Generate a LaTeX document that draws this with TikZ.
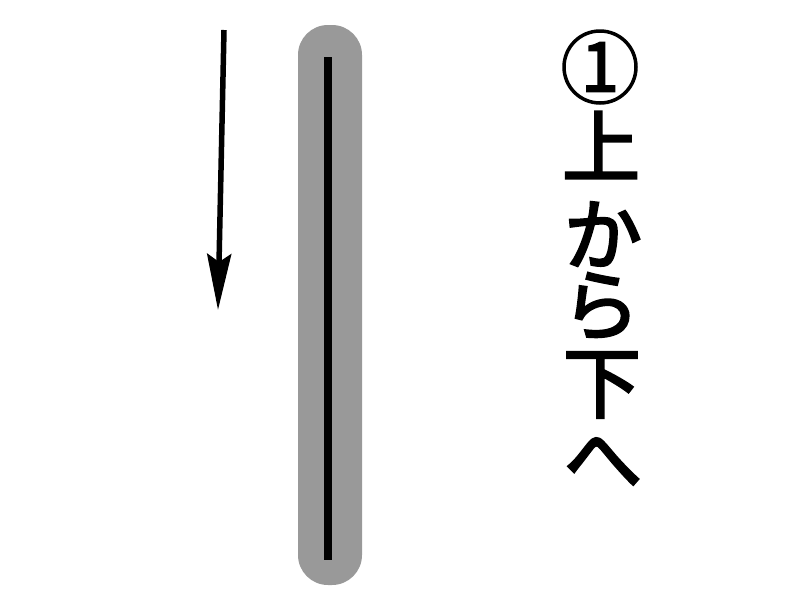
\documentclass[tikz,border=0pt]{standalone}
\usepackage{fontspec}
\newfontfamily\jpfont{Noto Sans CJK JP}[FakeBold=3]
\usetikzlibrary{arrows.meta}
\tikzset{
  kana/.style={font=\jpfont\fontsize{78}{78}\selectfont, inner sep=0pt, anchor=center},
  bar/.style={fill=black!40, rounded corners=30pt, draw=none},
  rule/.style={line width=7.5pt, draw=black},
  bigarrow/.style={line width=5.5pt, -{Stealth[length=56pt, width=24pt, inset=8pt]}}
}
\begin{document}
\begin{tikzpicture}[x=1pt,y=-1pt]
\useasboundingbox (0,0) rectangle (800,600);
\fill[white] (0,0) rectangle (800,600);
% arrow
\coordinate (a1) at (224,30);
\coordinate (a2) at (218,310);
\draw[bigarrow] (a1) -- (a2);
% shaded bar
\node[bar, minimum width=64pt, minimum height=560pt] (barnode) at (330,305) {};
\coordinate (r1) at (328,57);
\coordinate (r2) at (328,560);
\draw[rule] (r1) -- (r2);
% circled number
\node[draw, circle, line width=3.5pt, minimum size=72pt, inner sep=0pt,
      font=\jpfont\fontsize{68}{68}\selectfont] (num) at (600,67) {1};
\node[kana] (c1) at (601,145) {上};
\node[kana] (c2) at (603,234) {か};
\node[kana] (c3) at (601,306) {ら};
\node[kana] (c4) at (602,385) {下};
\node[kana] (c5) at (603,462) {へ};
\end{tikzpicture}
\end{document}
